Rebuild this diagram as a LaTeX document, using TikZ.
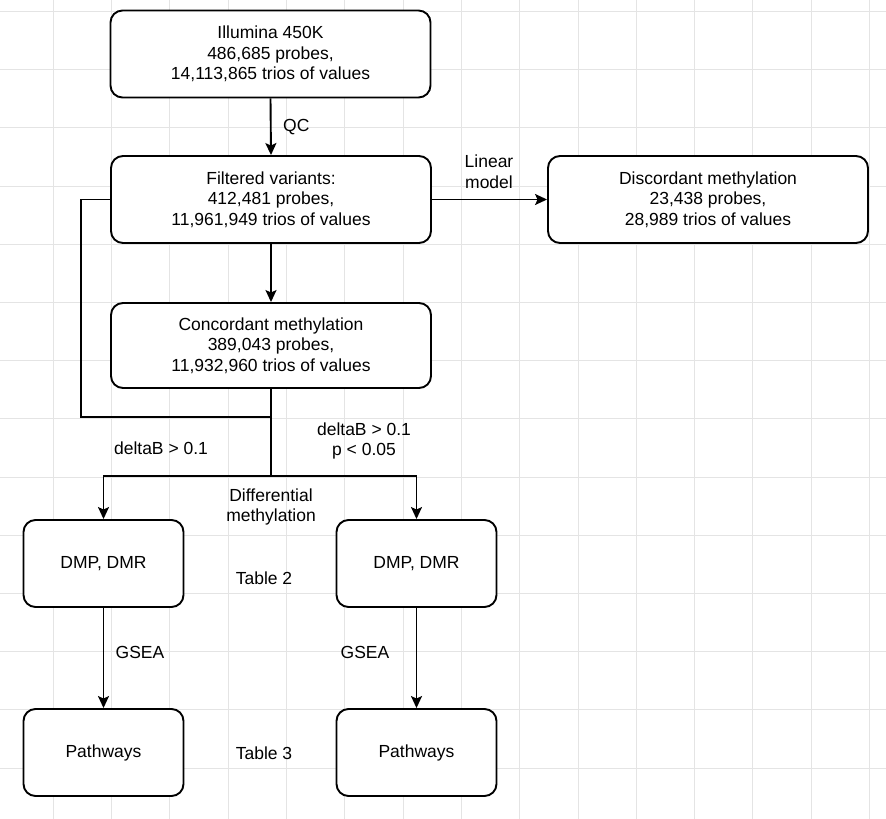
\documentclass[tikz,border=0pt]{standalone}
\usepackage{fontspec}
\setmainfont{Liberation Sans}
\usetikzlibrary{arrows.meta}
\definecolor{gridgray}{HTML}{E4E4E4}
\tikzset{
  box/.style={draw=black, line width=1.9pt, rounded corners=12pt, fill=white, align=center,
    font=\fontsize{17.5}{20.7}\selectfont, inner sep=0pt},
  bigbox/.style={box, minimum width=320pt, minimum height=87pt},
  smallbox/.style={box, minimum width=160pt, minimum height=87pt},
  lbl/.style={align=center, font=\fontsize{17.5}{20.7}\selectfont, inner sep=0pt},
  conn/.style={line width=1.9pt},
  arr/.style={conn, -{Stealth[length=12pt, width=11pt, inset=2.5pt]}},
}
\begin{document}
\begin{tikzpicture}[x=1pt, y=-1pt]
\useasboundingbox (0,0) rectangle (886,819);
\fill[white] (0,0) rectangle (886,819);
% grid
\foreach \i in {0,...,15} {
  \draw[gridgray, line width=0.9pt] ({-5+58.3*\i},0) -- ({-5+58.3*\i},819);
}
\foreach \j in {0,...,13} {
  \draw[gridgray, line width=0.9pt] (0,{11.5+58.2*\j}) -- (886,{11.5+58.2*\j});
}
% nodes
\node[bigbox] (illumina) at (270.5,54) {Illumina 450K\\486,685 probes,\\14,113,865 trios of values};
\node[bigbox] (filtered) at (271,199.5) {Filtered variants:\\412,481 probes,\\11,961,949 trios of values};
\node[bigbox] (discordant) at (708,199.5) {Discordant methylation\\23,438 probes,\\28,989 trios of values};
\node[bigbox, minimum height=85pt] (concordant) at (271,345.5) {Concordant methylation\\389,043 probes,\\11,932,960 trios of values};
\node[smallbox] (dmp1) at (103.5,563.5) {DMP, DMR};
\node[smallbox] (dmp2) at (416.5,563.5) {DMP, DMR};
\node[smallbox] (path1) at (103.5,752.5) {Pathways};
\node[smallbox] (path2) at (416.5,752.5) {Pathways};
% helper coordinates
\coordinate (join) at (271,417);
\coordinate (split) at (271,476);
% connectors
\draw[arr] (illumina.south) -- (filtered.north);
\draw[arr] (filtered.east) -- (discordant.west);
\draw[arr] (filtered.south) -- (concordant.north);
\draw[conn] (filtered.west) -- ++(-29,0) |- (join);
\draw[conn] (concordant.south) -- (split);
\draw[arr] (split) -| (dmp1.north);
\draw[arr] (split) -| (dmp2.north);
\draw[arr] (dmp1.south) -- (path1.north);
\draw[arr] (dmp2.south) -- (path2.north);
% labels
\node[lbl, anchor=west] (qc) at (283,127) {QC};
\node[lbl] (linear) at (489,172) {Linear\\model};
\node[lbl] (dl) at (161,448) {deltaB > 0.1};
\node[lbl] (dr) at (364,441) {deltaB > 0.1\\p < 0.05};
\node[lbl] (diff) at (271,507) {Differential\\methylation};
\node[lbl] (t2) at (264,578) {Table 2};
\node[lbl] (t3) at (264,753) {Table 3};
\node[lbl] (g1) at (140,652) {GSEA};
\node[lbl] (g2) at (365,652) {GSEA};
\end{tikzpicture}
\end{document}
